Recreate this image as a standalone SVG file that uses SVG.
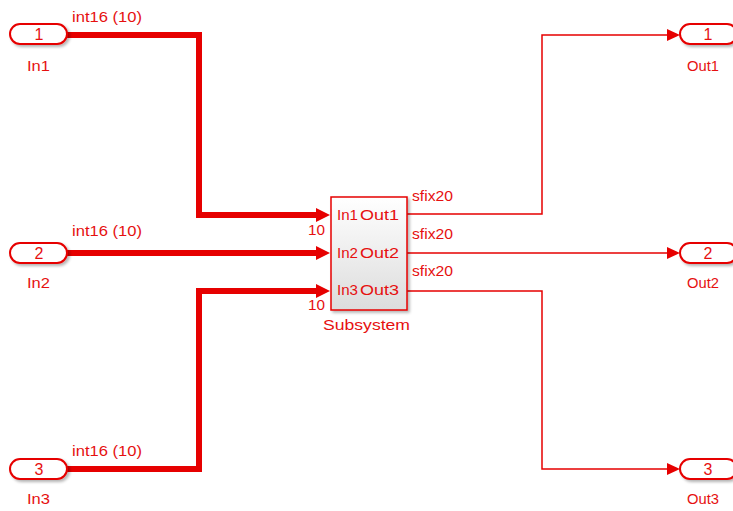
<svg xmlns="http://www.w3.org/2000/svg" width="733" height="511" viewBox="0 0 733 511">
<style>
text{font-family:"Liberation Sans",Arial,sans-serif;font-size:15.5px;fill:#e61010}
.port{fill:#fff;stroke:#e60000;stroke-width:2}
.thick{fill:none;stroke:#e60000;stroke-width:6}
.thin{fill:none;stroke:#e60000;stroke-width:1.5}
.ah{fill:#e60000}
.num{text-anchor:middle;font-size:16px}
</style>
<defs>
<linearGradient id="g" x1="0" y1="0" x2="0" y2="1">
<stop offset="0" stop-color="#ffffff"/>
<stop offset="1" stop-color="#dcdcdc"/>
</linearGradient>
<filter id="sh" x="-20%" y="-30%" width="140%" height="180%">
<feGaussianBlur in="SourceAlpha" stdDeviation="1.5"/>
<feOffset dx="2" dy="2" result="b"/>
<feComponentTransfer><feFuncA type="linear" slope="0.3"/></feComponentTransfer>
<feMerge><feMergeNode/><feMergeNode in="SourceGraphic"/></feMerge>
</filter>
</defs>
<g id="connectors">
<path class="thick" d="M67,35 H199 V215 H318"/>
<path class="thick" d="M67,253 H318"/>
<path class="thick" d="M67,469 H199 V291 H318"/>
<polygon class="ah" points="316,208 330,215 316,222"/>
<polygon class="ah" points="316,246 330,253 316,260"/>
<polygon class="ah" points="316,284 330,291 316,298"/>
<path class="thin" d="M407,214 H542 V35 H668"/>
<path class="thin" d="M407,253 H668"/>
<path class="thin" d="M407,291 H542 V469 H668"/>
<polygon class="ah" points="667,29 680,35 667,41"/>
<polygon class="ah" points="667,247 680,253 667,259"/>
<polygon class="ah" points="667,463 680,469 667,475"/>
<text x="72" y="22" textLength="70" lengthAdjust="spacingAndGlyphs">int16 (10)</text>
<text x="72" y="236" textLength="70" lengthAdjust="spacingAndGlyphs">int16 (10)</text>
<text x="72" y="456" textLength="70" lengthAdjust="spacingAndGlyphs">int16 (10)</text>
<text x="308" y="235" textLength="17" lengthAdjust="spacingAndGlyphs">10</text>
<text x="308" y="310" textLength="17" lengthAdjust="spacingAndGlyphs">10</text>
<text x="412" y="201" textLength="41" lengthAdjust="spacingAndGlyphs">sfix20</text>
<text x="412" y="239" textLength="41" lengthAdjust="spacingAndGlyphs">sfix20</text>
<text x="412" y="276" textLength="41" lengthAdjust="spacingAndGlyphs">sfix20</text>
</g>
<g id="In1">
<rect class="port" x="10" y="24" width="57" height="20" rx="10" filter="url(#sh)"/>
<text class="num" x="39" y="40">1</text>
<text x="27" y="71" textLength="23" lengthAdjust="spacingAndGlyphs">In1</text>
</g>
<g id="In2">
<rect class="port" x="10" y="243" width="57" height="20" rx="10" filter="url(#sh)"/>
<text class="num" x="39" y="259">2</text>
<text x="27" y="288" textLength="23" lengthAdjust="spacingAndGlyphs">In2</text>
</g>
<g id="In3">
<rect class="port" x="10" y="459" width="57" height="20" rx="10" filter="url(#sh)"/>
<text class="num" x="39" y="475">3</text>
<text x="27" y="504" textLength="23" lengthAdjust="spacingAndGlyphs">In3</text>
</g>
<g id="Subsystem">
<rect x="331" y="197" width="76" height="113" fill="url(#g)" stroke="#e60000" stroke-width="1.5" filter="url(#sh)"/>
<text x="337" y="220" textLength="21" lengthAdjust="spacingAndGlyphs">In1</text>
<text x="360" y="220" textLength="39" lengthAdjust="spacingAndGlyphs">Out1</text>
<text x="337" y="258" textLength="21" lengthAdjust="spacingAndGlyphs">In2</text>
<text x="360" y="258" textLength="39" lengthAdjust="spacingAndGlyphs">Out2</text>
<text x="337" y="295" textLength="21" lengthAdjust="spacingAndGlyphs">In3</text>
<text x="360" y="295" textLength="39" lengthAdjust="spacingAndGlyphs">Out3</text>
<text x="323" y="330" textLength="87" lengthAdjust="spacingAndGlyphs">Subsystem</text>
</g>
<g id="Out1">
<rect class="port" x="680" y="24" width="57" height="20" rx="10" filter="url(#sh)"/>
<text class="num" x="708" y="40">1</text>
<text x="687" y="71" textLength="32" lengthAdjust="spacingAndGlyphs">Out1</text>
</g>
<g id="Out2">
<rect class="port" x="680" y="243" width="57" height="20" rx="10" filter="url(#sh)"/>
<text class="num" x="708" y="259">2</text>
<text x="687" y="288" textLength="32" lengthAdjust="spacingAndGlyphs">Out2</text>
</g>
<g id="Out3">
<rect class="port" x="680" y="459" width="57" height="20" rx="10" filter="url(#sh)"/>
<text class="num" x="708" y="475">3</text>
<text x="687" y="504" textLength="32" lengthAdjust="spacingAndGlyphs">Out3</text>
</g>
</svg>
